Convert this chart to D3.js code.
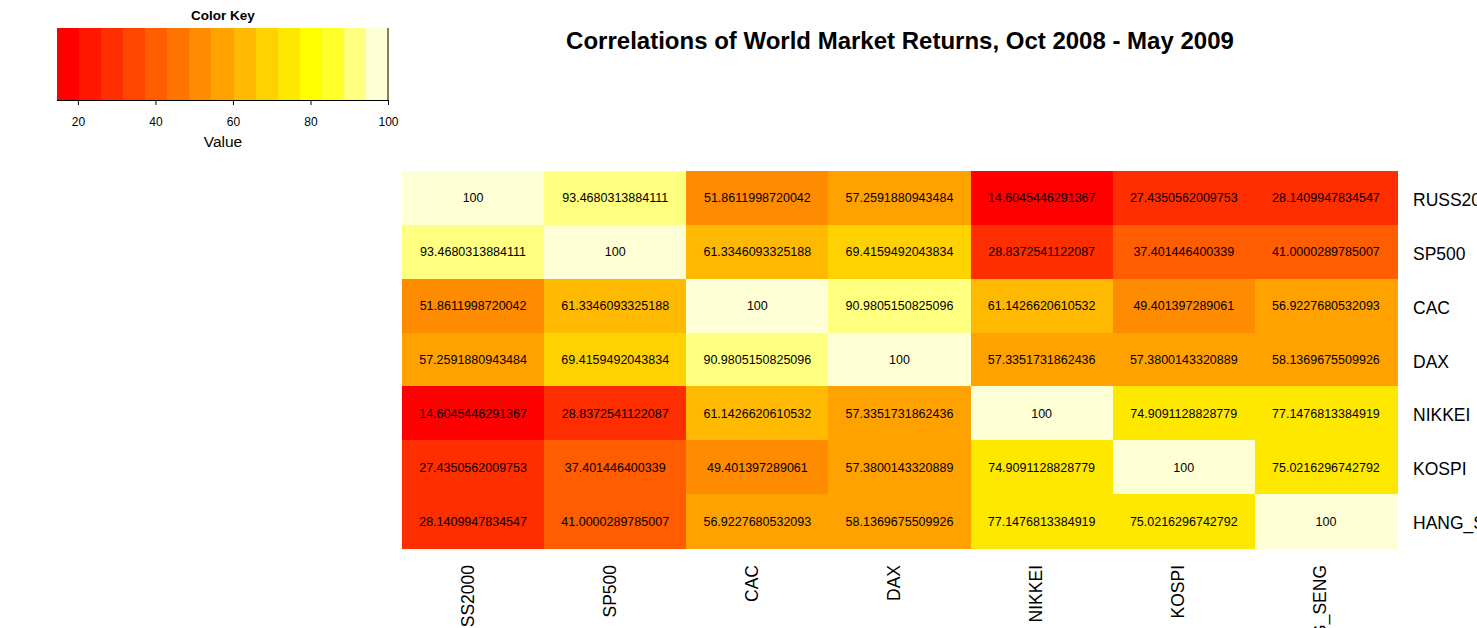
<!DOCTYPE html>
<html><head><meta charset="utf-8">
<script src="https://cdn.jsdelivr.net/npm/d3@7"></script>
<style>body{margin:0;background:#fff;overflow:hidden}svg{display:block;font-family:"Liberation Sans",Arial,sans-serif}</style>
</head><body><svg id="c" width="1477" height="628"></svg>
<script>
const markets = ["RUSS2000","SP500","CAC","DAX","NIKKEI","KOSPI","HANG_SENG"];
const row_RUSS2000 = [100, 93.4680313884111, 51.8611998720042, 57.2591880943484, 14.6045446291367, 27.4350562009753, 28.1409947834547];
const row_SP500 = [93.4680313884111, 100, 61.3346093325188, 69.4159492043834, 28.8372541122087, 37.401446400339, 41.0000289785007];
const row_CAC = [51.8611998720042, 61.3346093325188, 100, 90.9805150825096, 61.1426620610532, 49.401397289061, 56.9227680532093];
const row_DAX = [57.2591880943484, 69.4159492043834, 90.9805150825096, 100, 57.3351731862436, 57.3800143320889, 58.1369675509926];
const row_NIKKEI = [14.6045446291367, 28.8372541122087, 61.1426620610532, 57.3351731862436, 100, 74.9091128828779, 77.1476813384919];
const row_KOSPI = [27.4350562009753, 37.401446400339, 49.401397289061, 57.3800143320889, 74.9091128828779, 100, 75.0216296742792];
const row_HANG_SENG = [28.1409947834547, 41.0000289785007, 56.9227680532093, 58.1369675509926, 77.1476813384919, 75.0216296742792, 100];
const rows = [row_RUSS2000,row_SP500,row_CAC,row_DAX,row_NIKKEI,row_KOSPI,row_HANG_SENG];
const keyTicks = [20,40,60,80,100];
const title = "Correlations of World Market Returns, Oct 2008 - May 2009";

// heat.colors(15) as in R
function heatColors(n){
  const j = Math.floor(n/4), i = n - j, out = [];
  for(let k=0;k<i;k++){ const h = (k/(i-1))*(1/6)*360; out.push(d3.hsl(h,1,0.5).formatHex()); }
  for(let k=0;k<j;k++){ const s = (1-1/(2*j)) - k*((1-1/j)/(j-1)); const b=Math.round(255*(1-s)); out.push(d3.rgb(255,255,b).formatHex()); }
  return out;
}
const nCol = 15;
const cols = heatColors(nCol);
const all = rows.flat();
const vmin = d3.min(all), vmax = d3.max(all);
const breaks = d3.range(nCol+1).map(k => vmin + k*(vmax-vmin)/nCol);
const color = d3.scaleThreshold().domain(breaks.slice(1,-1)).range(cols);

const svg = d3.select("#c");
// title
svg.append("text").attr("x",900).attr("y",49).attr("text-anchor","middle")
  .attr("font-size",24).attr("font-weight","bold").text(title);

// heatmap
const x = d3.scaleBand().domain(markets).range([402,1397]);
const y = d3.scaleBand().domain(markets).range([171,548]);
const cells = [];
rows.forEach((r,ri)=> r.forEach((v,ci)=> cells.push({r:markets[ri],c:markets[ci],v})));
svg.append("g").selectAll("rect").data(cells).join("rect")
  .attr("x",d=>x(d.c)).attr("y",d=>y(d.r)).attr("width",x.bandwidth()+0.5).attr("height",y.bandwidth()+0.5)
  .attr("fill",d=>color(d.v)).attr("shape-rendering","crispEdges");
svg.append("g").selectAll("text").data(cells).join("text")
  .attr("x",d=>x(d.c)+x.bandwidth()/2).attr("y",d=>y(d.r)+y.bandwidth()/2+4.5)
  .attr("text-anchor","middle").attr("font-size",12.5).attr("fill","#000")
  .text(d=>String(d.v));

// row labels
svg.append("g").selectAll("text").data(markets).join("text")
  .attr("x",1413).attr("y",d=>y(d)+y.bandwidth()/2+8).attr("font-size",17.5).text(d=>d);
// column labels
svg.append("g").selectAll("text").data(markets).join("text")
  .attr("transform",d=>`translate(${x(d)+x.bandwidth()/2+0.5},565) rotate(-90)`)
  .attr("text-anchor","end").attr("font-size",17.5).text(d=>d);

// color key
const kx = d3.scaleLinear().domain([vmin,vmax]).range([57,388]);
const key = svg.append("g");
key.selectAll("rect").data(cols).join("rect")
  .attr("x",(d,i)=>kx(breaks[i])).attr("y",28).attr("width",(d,i)=>kx(breaks[i+1])-kx(breaks[i])+0.5)
  .attr("height",72).attr("fill",d=>d).attr("shape-rendering","crispEdges");
key.append("line").attr("x1",388).attr("x2",388).attr("y1",28).attr("y2",100).attr("stroke","#000");
const ax = key.append("g").attr("transform","translate(0,100)")
  .call(d3.axisBottom(kx).tickValues(keyTicks).tickSize(5).tickPadding(12).tickFormat(d3.format("d")));
ax.select(".domain").attr("d","M57,0.5H388");
ax.selectAll("text").attr("font-size",12).attr("font-family","Liberation Sans, Arial, sans-serif").attr("fill","#000");
ax.selectAll("line").attr("stroke","#000");
key.append("text").attr("x",223).attr("y",20).attr("text-anchor","middle").attr("font-size",13.5).attr("font-weight","bold").text("Color Key");
key.append("text").attr("x",223).attr("y",147).attr("text-anchor","middle").attr("font-size",15.5).text("Value");
</script></body></html>
